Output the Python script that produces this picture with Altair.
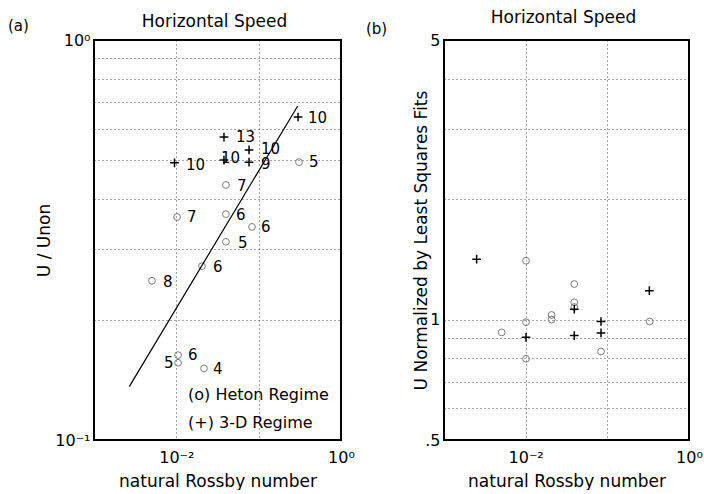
import altair as alt
import pandas as pd

FONT = "DejaVu Sans"
PLUS = "M-1,0L1,0M0,-1L0,1"

# ---------------- Panel (a) data ----------------
a_plus_x = [0.301, 0.0379, 0.0764, 0.0764, 0.0379, 0.0095]
a_plus_y = [0.642, 0.572, 0.531, 0.495, 0.501, 0.493]
a_plus_lab = ["10", "13", "10", "9", "10", "10"]
a_plus_lab_x = [0.397, 0.0531, 0.1067, 0.1067, 0.0349, 0.01309]
a_plus_lab_y = [0.638, 0.572, 0.535, 0.489, 0.507, 0.487]

a_circ_x = [0.309, 0.040, 0.0102, 0.040, 0.083, 0.040, 0.0205, 0.00506, 0.0105, 0.0105, 0.0217]
a_circ_y = [0.495, 0.434, 0.361, 0.367, 0.341, 0.313, 0.272, 0.250, 0.163, 0.156, 0.151]
a_circ_lab = ["5", "7", "7", "6", "6", "5", "6", "8", "6", "5", "4"]
a_circ_lab_x = [0.4088, 0.0546, 0.01348, 0.0531, 0.1067, 0.0561, 0.0279, 0.00689, 0.01387, 0.00708, 0.0279]
a_circ_lab_y = [0.495, 0.4315, 0.361, 0.365, 0.341, 0.311, 0.2707, 0.248, 0.163, 0.156, 0.1505]

fit_x = [0.00268, 0.298]
fit_y = [0.136, 0.684]

legend_text = ["(o) Heton Regime", "(+) 3-D Regime"]
legend_x = [0.01387, 0.01387]
legend_y = [0.1296, 0.1103]

# ---------------- Panel (b) data ----------------
b_plus_x = [0.00251, 0.0101, 0.0394, 0.0394, 0.0837, 0.0837, 0.327]
b_plus_y = [1.416, 0.903, 1.062, 0.912, 0.989, 0.926, 1.181]
b_circ_x = [0.0101, 0.0394, 0.0394, 0.0394, 0.0208, 0.0208, 0.0101, 0.00509, 0.0837, 0.0101, 0.33]
b_circ_y = [1.403, 1.227, 1.105, 1.075, 1.027, 1.0, 0.985, 0.929, 0.832, 0.798, 0.989]

# tick values: edges carry labels only, interior carry grid lines
x_label_ticks = [0.01, 1]
x_grid_ticks = [0.01, 0.1]
a_y_label_ticks = [0.1, 1]
a_y_grid_ticks = [0.2, 0.3, 0.4, 0.5, 0.6, 0.7, 0.8, 0.9]
b_y_label_ticks = [0.5, 1, 5]
b_y_grid_ticks = [0.6, 0.7, 0.8, 0.9, 1, 2, 3, 4]

W_A, W_B, H = 247, 245, 400

common = dict(ticks=False, domain=False, labelFont=FONT, labelFontSize=16,
              labelColor="black", titleFont=FONT, titleFontSize=17,
              titleFontWeight="normal", titleColor="black",
              labelOverlap=False, labelFlush=False, labelBound=False)
grid_style = dict(gridDash=[1, 3], gridColor="black", gridOpacity=0.7, gridWidth=1)

X_EXPR = "abs(datum.value-0.01)<1e-9 ? '10⁻²' : abs(datum.value-1)<1e-9 ? '10⁰' : ''"


def x_label_axis(w):
    return alt.Axis(values=x_label_ticks, labelExpr=X_EXPR, grid=False, orient="bottom",
                    title="natural Rossby number", labelPadding=9,
                    titleX=w / 2, titleY=46, titleBaseline="alphabetic",
                    titleAlign="center", **common)


def x_grid_axis():
    return alt.Axis(values=x_grid_ticks, grid=True, labels=False, title="", orient="bottom",
                    ticks=False, domain=False, **grid_style)


def y_grid_axis(vals):
    return alt.Axis(values=vals, grid=True, labels=False, title="", orient="left",
                    ticks=False, domain=False, **grid_style)


def build_panel(w, yscale, yaxis, ygrid_vals, plus_df, circ_df, extra_layers,
                title_y, tag, tag_x, tag_y):
    xs = alt.Scale(type="log", domain=[0.001, 1], nice=False)
    grid = alt.Chart(circ_df).mark_point(opacity=0).encode(
        x=alt.X("x:Q", scale=xs, axis=x_grid_axis()),
        y=alt.Y("y:Q", scale=yscale, axis=y_grid_axis(ygrid_vals)))
    circles = alt.Chart(circ_df).mark_point(shape="circle", size=46, filled=False,
                                             stroke="#7a7a7a", strokeWidth=1, opacity=1).encode(
        x=alt.X("x:Q", scale=xs, axis=x_label_axis(w)),
        y=alt.Y("y:Q", scale=yscale, axis=yaxis))
    pluses = alt.Chart(plus_df).mark_point(shape=PLUS, size=76, filled=False,
                                            stroke="black", strokeWidth=1.5, opacity=1).encode(
        x=alt.X("x:Q", scale=xs, axis=None), y=alt.Y("y:Q", scale=yscale, axis=None))
    frame = alt.Chart(pd.DataFrame({"f": [0]})).mark_rect(
        filled=False, stroke="black", strokeWidth=2, fillOpacity=0, strokeOpacity=1).encode(
        x=alt.value(0), x2=alt.value(w), y=alt.value(0), y2=alt.value(H))
    ttl = alt.Chart(pd.DataFrame({"t": ["Horizontal Speed"]})).mark_text(
        font=FONT, fontSize=17, align="center", baseline="alphabetic", color="black").encode(
        text="t:N", x=alt.value(w / 2 - 3), y=alt.value(title_y))
    tagm = alt.Chart(pd.DataFrame({"t": [tag]})).mark_text(
        font=FONT, fontSize=15, align="left", baseline="alphabetic", color="black").encode(
        text="t:N", x=alt.value(tag_x), y=alt.value(tag_y))
    return alt.layer(grid, circles, pluses, *extra_layers, frame, ttl, tagm).resolve_axis(
        x="independent", y="independent").properties(width=w, height=H)


xs_a = alt.Scale(type="log", domain=[0.001, 1], nice=False)
ys_a = alt.Scale(type="log", domain=[0.1, 1], nice=False)
ya = alt.Axis(values=a_y_label_ticks, grid=False, orient="left",
              labelExpr="abs(datum.value-1)<1e-9 ? '10⁰' : abs(datum.value-0.1)<1e-9 ? '10⁻¹' : ''",
              title="U / Unon", labelPadding=4, titleX=-45, titleY=H / 2,
              titleBaseline="alphabetic", titleAlign="center", titleAngle=270, **common)

a_plus_df = pd.DataFrame({"x": a_plus_x, "y": a_plus_y})
a_circ_df = pd.DataFrame({"x": a_circ_x, "y": a_circ_y})
a_lab_df = pd.DataFrame({"x": a_plus_lab_x + a_circ_lab_x,
                         "y": a_plus_lab_y + a_circ_lab_y,
                         "t": a_plus_lab + a_circ_lab})
fit_df = pd.DataFrame({"x": fit_x, "y": fit_y})
leg_df = pd.DataFrame({"x": legend_x, "y": legend_y, "t": legend_text})

fit_line = alt.Chart(fit_df).mark_line(color="black", strokeWidth=1.2).encode(
    x=alt.X("x:Q", scale=xs_a, axis=None), y=alt.Y("y:Q", scale=ys_a, axis=None))
a_labels = alt.Chart(a_lab_df).mark_text(font=FONT, fontSize=15, align="left",
                                         baseline="middle", color="black").encode(
    x=alt.X("x:Q", scale=xs_a, axis=None), y=alt.Y("y:Q", scale=ys_a, axis=None), text="t:N")
a_legend = alt.Chart(leg_df).mark_text(font=FONT, fontSize=16, align="left",
                                       baseline="middle", color="black").encode(
    x=alt.X("x:Q", scale=xs_a, axis=None), y=alt.Y("y:Q", scale=ys_a, axis=None), text="t:N")

panel_a = build_panel(W_A, ys_a, ya, a_y_grid_ticks, a_plus_df, a_circ_df,
                      [fit_line, a_labels, a_legend], -13, "(a)", -86, -9)

ys_b = alt.Scale(type="log", domain=[0.5, 5], nice=False)
yb = alt.Axis(values=b_y_label_ticks, grid=False, orient="left",
              labelExpr="abs(datum.value-5)<1e-9 ? '5' : abs(datum.value-1)<1e-9 ? '1' : abs(datum.value-0.5)<1e-9 ? '.5' : ''",
              title="U Normalized by Least Squares Fits", labelPadding=4, titleX=-18,
              titleY=H / 2, titleBaseline="alphabetic", titleAlign="center",
              titleAngle=270, **common)
b_plus_df = pd.DataFrame({"x": b_plus_x, "y": b_plus_y})
b_circ_df = pd.DataFrame({"x": b_circ_x, "y": b_circ_y})
panel_b = build_panel(W_B, ys_b, yb, b_y_grid_ticks, b_plus_df, b_circ_df, [],
                      -17, "(b)", -78, -6)

chart = alt.hconcat(panel_a, panel_b, spacing=103, bounds="flush").resolve_scale(
    x="independent", y="independent"
).properties(
    padding={"left": 7, "top": 8, "right": 0, "bottom": 0},
    background="white",
).configure_view(stroke="black", strokeWidth=2, strokeOpacity=1)

chart.save("out.html", embed_options={"renderer": "svg", "actions": False})
